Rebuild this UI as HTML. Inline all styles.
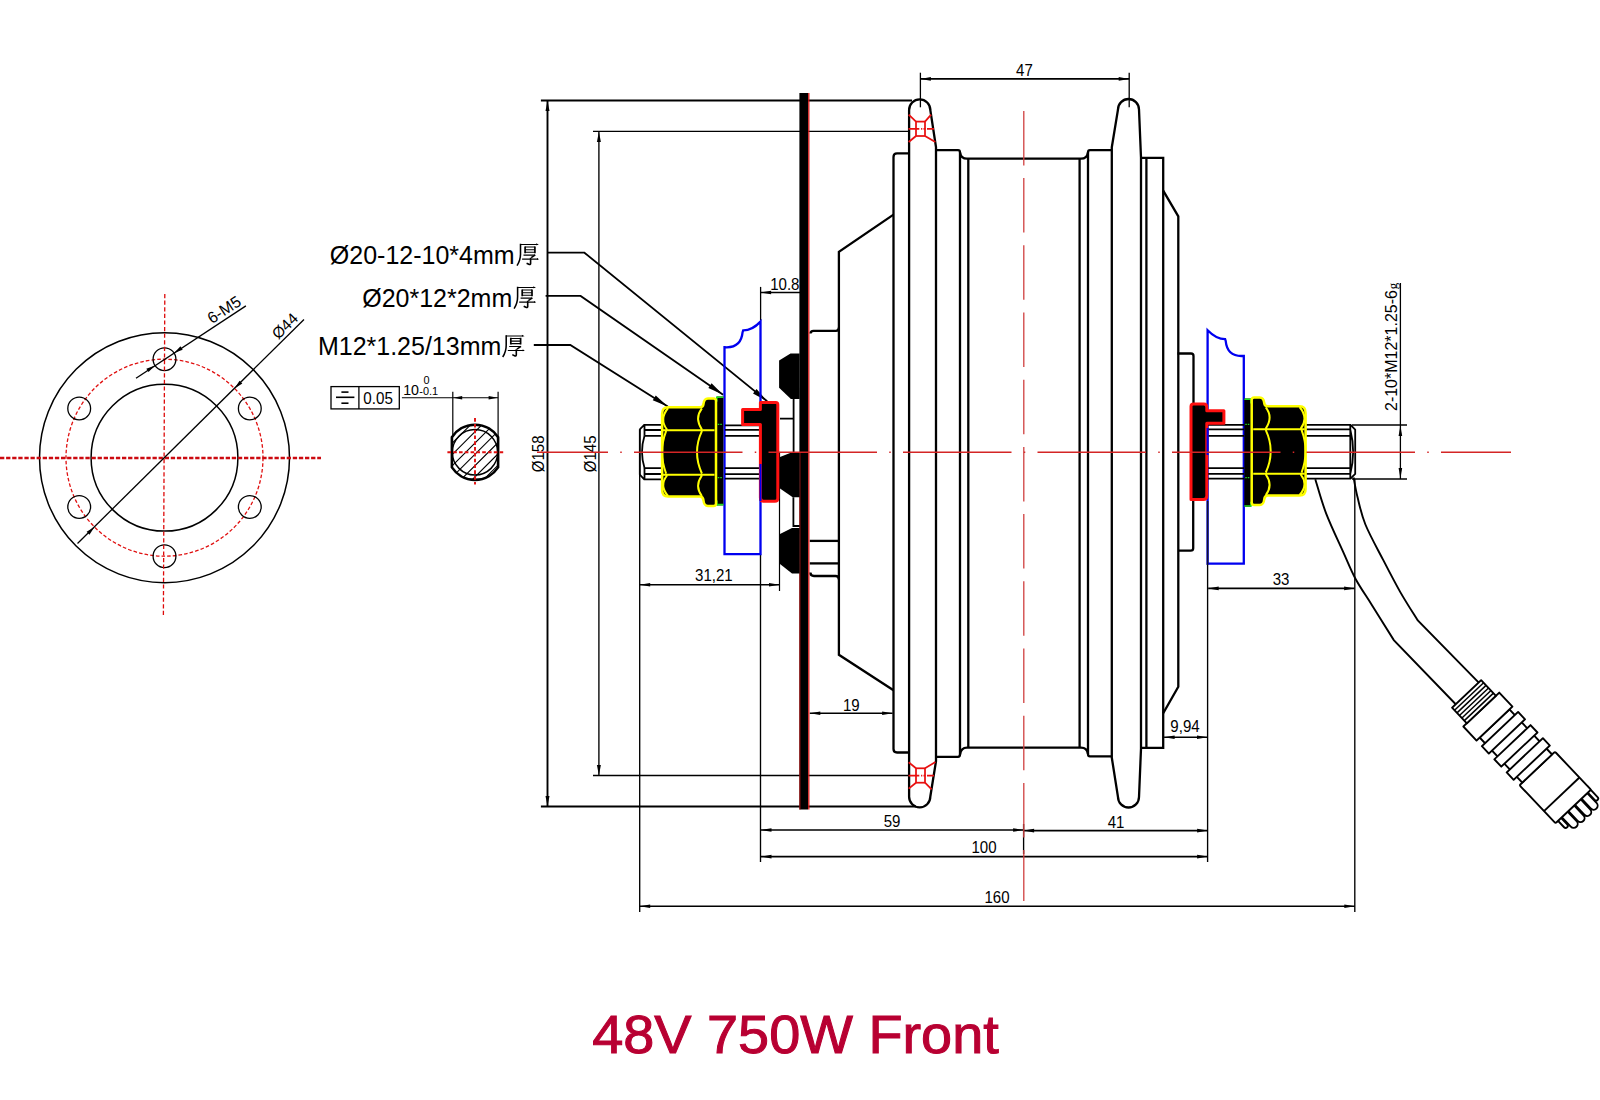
<!DOCTYPE html>
<html><head><meta charset="utf-8"><style>html,body{margin:0;padding:0;background:#fff;overflow:hidden;}svg{display:block}</style></head>
<body><svg width="1600" height="1100" viewBox="0 0 1600 1100">
<rect width="1600" height="1100" fill="#fff"/>
<circle cx="164.5" cy="457.7" r="125" fill="none" stroke="#000" stroke-width="1.5"/>
<circle cx="164.5" cy="457.7" r="73.4" fill="none" stroke="#000" stroke-width="1.5"/>
<circle cx="164.5" cy="457.7" r="98.5" fill="none" stroke="#E01010" stroke-width="1.3" stroke-dasharray="3.6 2.1"/>
<circle cx="249.8" cy="408.45" r="11.4" fill="none" stroke="#000" stroke-width="1.3"/>
<circle cx="164.5" cy="359.2" r="11.4" fill="none" stroke="#000" stroke-width="1.3"/>
<circle cx="79.2" cy="408.45" r="11.4" fill="none" stroke="#000" stroke-width="1.3"/>
<circle cx="79.2" cy="506.95" r="11.4" fill="none" stroke="#000" stroke-width="1.3"/>
<circle cx="164.5" cy="556.2" r="11.4" fill="none" stroke="#000" stroke-width="1.3"/>
<circle cx="249.8" cy="506.95" r="11.4" fill="none" stroke="#000" stroke-width="1.3"/>
<line x1="0" y1="458" x2="321" y2="458" stroke="#CC0A10" stroke-width="2.4" stroke-dasharray="4.3 1.8"/>
<line x1="164.8" y1="294" x2="163.4" y2="615.5" stroke="#DD0A0A" stroke-width="1.3" stroke-dasharray="4.2 2.4"/>
<line x1="77.5" y1="543.5" x2="304" y2="319.5" stroke="#000" stroke-width="1.3" />
<polygon points="234.54,388.44 239.53,380.69 242.34,383.53" fill="#000" stroke="none" stroke-width="0" />
<polygon points="94.46,526.96 89.47,534.71 86.66,531.87" fill="#000" stroke="none" stroke-width="0" />
<text x="0" y="0" transform="translate(288.6,329.8) rotate(-44.7)" font-family="Liberation Sans" font-size="15.5" fill="#000" font-weight="normal" text-anchor="middle" >Ø44</text>
<line x1="245.9" y1="305.9" x2="136" y2="378.3" stroke="#000" stroke-width="1.3" />
<polygon points="174.04,352.96 180.47,346.35 182.66,349.7" fill="#000" stroke="none" stroke-width="0" />
<polygon points="154.96,365.44 148.53,372.05 146.34,368.7" fill="#000" stroke="none" stroke-width="0" />
<text x="0" y="0" transform="translate(227.1,314.3) rotate(-33.4)" font-family="Liberation Sans" font-size="16" fill="#000" font-weight="normal" text-anchor="middle" >6-M5</text>
<rect x="331" y="386.6" width="68.3" height="22.3" fill="none" stroke="#000" stroke-width="1.3"/>
<line x1="358.9" y1="386.6" x2="358.9" y2="408.9" stroke="#000" stroke-width="1.3" />
<line x1="336" y1="397.3" x2="354.4" y2="397.3" stroke="#000" stroke-width="1.6" />
<line x1="341.4" y1="392.1" x2="348.5" y2="392.1" stroke="#000" stroke-width="1.6" />
<line x1="341.4" y1="403.2" x2="348.5" y2="403.2" stroke="#000" stroke-width="1.6" />
<text x="0" y="0" transform="translate(363.3,403.6) scale(0.95,1)" font-family="Liberation Sans" font-size="16" fill="#000" font-weight="normal" text-anchor="start" >0.05</text>
<line x1="401.9" y1="397.7" x2="498.1" y2="397.7" stroke="#000" stroke-width="1.1" />
<polygon points="453.2,397.7 462.2,395.9 462.2,399.5" fill="#000" stroke="none" stroke-width="0" />
<polygon points="497.6,397.7 488.6,399.5 488.6,395.9" fill="#000" stroke="none" stroke-width="0" />
<line x1="452.8" y1="391.7" x2="452.8" y2="436" stroke="#000" stroke-width="1.2" />
<line x1="498.1" y1="391.7" x2="498.1" y2="436" stroke="#000" stroke-width="1.2" />
<text x="0" y="0" transform="translate(403.2,394.6) scale(0.95,1)" font-family="Liberation Sans" font-size="15" fill="#000" font-weight="normal" text-anchor="start" >10</text>
<text x="0" y="0" transform="translate(419.3,394.6) scale(0.95,1)" font-family="Liberation Sans" font-size="11.5" fill="#000" font-weight="normal" text-anchor="start" >-0.1</text>
<text x="0" y="0" transform="translate(423.6,384.4) scale(0.95,1)" font-family="Liberation Sans" font-size="11.5" fill="#000" font-weight="normal" text-anchor="start" >0</text>
<clipPath id="shc"><path d="M451.9,437.2 A27.6,27.6 0 0 1 498.1,437.2 V467.4 A27.6,27.6 0 0 1 451.9,467.4 Z"/></clipPath>
<path d="M435,426.5 L515,346.5 M435,437.8 L515,357.8 M435,449.1 L515,369.1 M435,460.4 L515,380.4 M435,471.7 L515,391.7 M435,483 L515,403 M435,494.3 L515,414.3 M435,505.6 L515,425.6 M435,516.9 L515,436.9 M435,528.2 L515,448.2 M435,539.5 L515,459.5 M435,550.8 L515,470.8 M435,562.1 L515,482.1" stroke="#000" stroke-width="1.1" fill="none" clip-path="url(#shc)"/>
<path d="M451.9,437.2 A27.6,27.6 0 0 1 498.1,437.2 V467.4 A27.6,27.6 0 0 1 451.9,467.4 Z" stroke="#000" stroke-width="2.6" fill="none" />
<circle cx="475" cy="452.3" r="22.7" fill="none" stroke="#000" stroke-width="1.5"/>
<line x1="475" y1="418.1" x2="475" y2="484.5" stroke="#E01010" stroke-width="1.9" stroke-dasharray="3.6 2.2"/>
<line x1="447.4" y1="452.3" x2="503.6" y2="452.3" stroke="#E01010" stroke-width="1.9" stroke-dasharray="3.6 2.2"/>
<text x="0" y="0" transform="translate(329.8,263.6)" font-family="Liberation Sans" font-size="25" fill="#000" font-weight="normal" text-anchor="start" >Ø20-12-10*4mm</text>
<text x="0" y="0" transform="translate(362.2,306.6)" font-family="Liberation Sans" font-size="25" fill="#000" font-weight="normal" text-anchor="start" >Ø20*12*2mm</text>
<text x="0" y="0" transform="translate(317.9,355)" font-family="Liberation Sans" font-size="25" fill="#000" font-weight="normal" text-anchor="start" >M12*1.25/13mm</text>
<g transform="translate(512,239.6) scale(1.0)" stroke="#000" fill="none" stroke-linecap="butt"><path d="M8.2,4.9 H25.5 M13.1,7.4 H22.9 M13.1,10.1 H22.9 M13.1,12.6 H22.9 M11.5,15.5 H23 M10.1,19.5 H26" stroke-width="1.05"/><path d="M8.5,4.2 V14 Q8.6,20.5 5.0,26" stroke-width="1.55"/><path d="M13.1,6.8 V13.6 M22.9,6.8 V13.6" stroke-width="1.7"/><path d="M23.3,15.3 L19.2,18.1" stroke-width="1.5"/><path d="M18.6,18.2 V24 Q18.5,25.2 17.3,24.9 L14.6,23.6" stroke-width="1.6"/><path d="M24.2,3.7 L26.9,5.2 L24.2,5.6 Z M25,18.3 L27.1,19.7 L25,20.2 Z" fill="#000" stroke="none"/></g>
<g transform="translate(509.1,282.6) scale(1.0)" stroke="#000" fill="none" stroke-linecap="butt"><path d="M8.2,4.9 H25.5 M13.1,7.4 H22.9 M13.1,10.1 H22.9 M13.1,12.6 H22.9 M11.5,15.5 H23 M10.1,19.5 H26" stroke-width="1.05"/><path d="M8.5,4.2 V14 Q8.6,20.5 5.0,26" stroke-width="1.55"/><path d="M13.1,6.8 V13.6 M22.9,6.8 V13.6" stroke-width="1.7"/><path d="M23.3,15.3 L19.2,18.1" stroke-width="1.5"/><path d="M18.6,18.2 V24 Q18.5,25.2 17.3,24.9 L14.6,23.6" stroke-width="1.6"/><path d="M24.2,3.7 L26.9,5.2 L24.2,5.6 Z M25,18.3 L27.1,19.7 L25,20.2 Z" fill="#000" stroke="none"/></g>
<g transform="translate(497.7,331) scale(1.0)" stroke="#000" fill="none" stroke-linecap="butt"><path d="M8.2,4.9 H25.5 M13.1,7.4 H22.9 M13.1,10.1 H22.9 M13.1,12.6 H22.9 M11.5,15.5 H23 M10.1,19.5 H26" stroke-width="1.05"/><path d="M8.5,4.2 V14 Q8.6,20.5 5.0,26" stroke-width="1.55"/><path d="M13.1,6.8 V13.6 M22.9,6.8 V13.6" stroke-width="1.7"/><path d="M23.3,15.3 L19.2,18.1" stroke-width="1.5"/><path d="M18.6,18.2 V24 Q18.5,25.2 17.3,24.9 L14.6,23.6" stroke-width="1.6"/><path d="M24.2,3.7 L26.9,5.2 L24.2,5.6 Z M25,18.3 L27.1,19.7 L25,20.2 Z" fill="#000" stroke="none"/></g>
<path d="M547.5,252.7 H584.4 L767.2,401.3" stroke="#000" stroke-width="1.8" fill="none" />
<polygon points="767.2,401.3 753.02,393.38 756.55,389.03" fill="#000" stroke="none" stroke-width="0" />
<path d="M545.6,295.9 H580.6 L723.1,394.7" stroke="#000" stroke-width="1.8" fill="none" />
<polygon points="723.1,394.7 708.36,387.88 711.55,383.28" fill="#000" stroke="none" stroke-width="0" />
<path d="M533.8,345 H570.3 L667.8,406.5" stroke="#000" stroke-width="1.8" fill="none" />
<polygon points="667.8,406.5 652.77,400.33 655.76,395.6" fill="#000" stroke="none" stroke-width="0" />
<line x1="540.9" y1="100.4" x2="912" y2="100.4" stroke="#000" stroke-width="2.0" />
<line x1="540.9" y1="806.6" x2="916" y2="806.6" stroke="#000" stroke-width="2.0" />
<line x1="547.5" y1="100.4" x2="547.5" y2="806.6" stroke="#000" stroke-width="1.9" />
<polygon points="547.5,101 549.5,111 545.5,111" fill="#000" stroke="none" stroke-width="0" />
<polygon points="547.5,806 545.5,796 549.5,796" fill="#000" stroke="none" stroke-width="0" />
<text x="0" y="0" transform="translate(544.4,453.9) rotate(-90) scale(0.96,1)" font-family="Liberation Sans" font-size="15.7" fill="#000" font-weight="normal" text-anchor="middle" >Ø158</text>
<line x1="593" y1="131.4" x2="908.5" y2="131.4" stroke="#000" stroke-width="1.35" />
<line x1="593" y1="775.5" x2="908.5" y2="775.5" stroke="#000" stroke-width="1.35" />
<line x1="598.9" y1="131.4" x2="598.9" y2="775.5" stroke="#000" stroke-width="1.35" />
<polygon points="598.9,131.9 600.9,141.9 596.9,141.9" fill="#000" stroke="none" stroke-width="0" />
<polygon points="598.9,775 596.9,765 600.9,765" fill="#000" stroke="none" stroke-width="0" />
<text x="0" y="0" transform="translate(595.9,453.9) rotate(-90) scale(0.96,1)" font-family="Liberation Sans" font-size="15.7" fill="#000" font-weight="normal" text-anchor="middle" >Ø145</text>
<line x1="920.4" y1="72.7" x2="920.4" y2="107.3" stroke="#000" stroke-width="1.3" />
<line x1="1129.2" y1="72.7" x2="1129.2" y2="107.3" stroke="#000" stroke-width="1.3" />
<line x1="920.4" y1="78.9" x2="1129.2" y2="78.9" stroke="#000" stroke-width="1.6" />
<polygon points="920.4,78.9 930.9,77.1 930.9,80.7" fill="#000" stroke="none" stroke-width="0" />
<polygon points="1129.2,78.9 1118.7,80.7 1118.7,77.1" fill="#000" stroke="none" stroke-width="0" />
<text x="0" y="0" transform="translate(1024.4,75.8) scale(0.96,1)" font-family="Liberation Sans" font-size="15.7" fill="#000" font-weight="normal" text-anchor="middle" >47</text>
<line x1="760.6" y1="286.9" x2="760.6" y2="320.6" stroke="#000" stroke-width="1.3" />
<line x1="760.6" y1="292.5" x2="800" y2="292.5" stroke="#000" stroke-width="1.35" />
<polygon points="760.6,292.5 771.1,290.7 771.1,294.3" fill="#000" stroke="none" stroke-width="0" />
<text x="0" y="0" transform="translate(784.8,290) scale(0.96,1)" font-family="Liberation Sans" font-size="15.7" fill="#000" font-weight="normal" text-anchor="middle" >10.8</text>
<line x1="639.7" y1="429.3" x2="639.7" y2="912" stroke="#000" stroke-width="1.35" />
<line x1="779.5" y1="452" x2="779.5" y2="591" stroke="#000" stroke-width="1.2" />
<line x1="639.7" y1="584.8" x2="779.5" y2="584.8" stroke="#000" stroke-width="1.6" />
<polygon points="639.7,584.8 650.2,583 650.2,586.6" fill="#000" stroke="none" stroke-width="0" />
<polygon points="779.5,584.8 769,586.6 769,583" fill="#000" stroke="none" stroke-width="0" />
<text x="0" y="0" transform="translate(713.9,580.5) scale(0.96,1)" font-family="Liberation Sans" font-size="15.7" fill="#000" font-weight="normal" text-anchor="middle" >31,21</text>
<line x1="809.8" y1="713.3" x2="892.6" y2="713.3" stroke="#000" stroke-width="1.6" />
<polygon points="809.8,713.3 820.3,711.5 820.3,715.1" fill="#000" stroke="none" stroke-width="0" />
<polygon points="892.6,713.3 882.1,715.1 882.1,711.5" fill="#000" stroke="none" stroke-width="0" />
<text x="0" y="0" transform="translate(851.3,710.9) scale(0.96,1)" font-family="Liberation Sans" font-size="15.7" fill="#000" font-weight="normal" text-anchor="middle" >19</text>
<line x1="1164.1" y1="737.3" x2="1207.5" y2="737.3" stroke="#000" stroke-width="1.6" />
<polygon points="1164.1,737.3 1174.6,735.5 1174.6,739.1" fill="#000" stroke="none" stroke-width="0" />
<polygon points="1207.5,737.3 1197,739.1 1197,735.5" fill="#000" stroke="none" stroke-width="0" />
<text x="0" y="0" transform="translate(1185,732.2) scale(0.96,1)" font-family="Liberation Sans" font-size="15.7" fill="#000" font-weight="normal" text-anchor="middle" >9,94</text>
<line x1="1208.2" y1="588.4" x2="1354.6" y2="588.4" stroke="#000" stroke-width="1.6" />
<polygon points="1208.2,588.4 1218.7,586.6 1218.7,590.2" fill="#000" stroke="none" stroke-width="0" />
<polygon points="1354.6,588.4 1344.1,590.2 1344.1,586.6" fill="#000" stroke="none" stroke-width="0" />
<text x="0" y="0" transform="translate(1281,585) scale(0.96,1)" font-family="Liberation Sans" font-size="15.7" fill="#000" font-weight="normal" text-anchor="middle" >33</text>
<line x1="760.5" y1="554" x2="760.5" y2="862" stroke="#000" stroke-width="1.35" />
<line x1="1207.6" y1="563.6" x2="1207.6" y2="862" stroke="#000" stroke-width="1.35" />
<line x1="1023.6" y1="824" x2="1023.6" y2="854" stroke="#000" stroke-width="1.35" />
<line x1="1354.8" y1="479" x2="1354.8" y2="912" stroke="#000" stroke-width="1.35" />
<line x1="761" y1="830" x2="1023.6" y2="830" stroke="#000" stroke-width="1.6" />
<polygon points="761,830 771.5,828.2 771.5,831.8" fill="#000" stroke="none" stroke-width="0" />
<polygon points="1023.6,830 1013.1,831.8 1013.1,828.2" fill="#000" stroke="none" stroke-width="0" />
<text x="0" y="0" transform="translate(892,826.8) scale(0.96,1)" font-family="Liberation Sans" font-size="15.7" fill="#000" font-weight="normal" text-anchor="middle" >59</text>
<line x1="1023.6" y1="830.6" x2="1207.6" y2="830.6" stroke="#000" stroke-width="1.6" />
<polygon points="1023.6,830.6 1034.1,828.8 1034.1,832.4" fill="#000" stroke="none" stroke-width="0" />
<polygon points="1207.6,830.6 1197.1,832.4 1197.1,828.8" fill="#000" stroke="none" stroke-width="0" />
<text x="0" y="0" transform="translate(1116,827.8) scale(0.96,1)" font-family="Liberation Sans" font-size="15.7" fill="#000" font-weight="normal" text-anchor="middle" >41</text>
<line x1="761" y1="856.6" x2="1207.6" y2="856.6" stroke="#000" stroke-width="1.6" />
<polygon points="761,856.6 771.5,854.8 771.5,858.4" fill="#000" stroke="none" stroke-width="0" />
<polygon points="1207.6,856.6 1197.1,858.4 1197.1,854.8" fill="#000" stroke="none" stroke-width="0" />
<text x="0" y="0" transform="translate(984,853.2) scale(0.96,1)" font-family="Liberation Sans" font-size="15.7" fill="#000" font-weight="normal" text-anchor="middle" >100</text>
<line x1="639.7" y1="906.3" x2="1354.8" y2="906.3" stroke="#000" stroke-width="1.6" />
<polygon points="639.7,906.3 650.2,904.5 650.2,908.1" fill="#000" stroke="none" stroke-width="0" />
<polygon points="1354.8,906.3 1344.3,908.1 1344.3,904.5" fill="#000" stroke="none" stroke-width="0" />
<text x="0" y="0" transform="translate(997,903.2) scale(0.96,1)" font-family="Liberation Sans" font-size="15.7" fill="#000" font-weight="normal" text-anchor="middle" >160</text>
<line x1="1352" y1="425" x2="1407" y2="425" stroke="#000" stroke-width="1.4" />
<line x1="1352" y1="479" x2="1407" y2="479" stroke="#000" stroke-width="1.4" />
<line x1="1400.4" y1="283" x2="1400.4" y2="479" stroke="#000" stroke-width="1.3" />
<polygon points="1400.4,425.5 1402.2,436 1398.6,436" fill="#000" stroke="none" stroke-width="0" />
<polygon points="1400.4,478.5 1398.6,468 1402.2,468" fill="#000" stroke="none" stroke-width="0" />
<text transform="translate(1397.2,411) rotate(-90)" font-family="Liberation Sans" font-size="16" fill="#000">2-10*M12*1.25-6<tspan dx="0.8" font-family="Liberation Serif" font-size="13">g</tspan></text>
<path d="M909.1,110 A10.6,10.6 0 0 1 930.3,110 L936,147.2 V761.2 L930.3,796.7 A10.6,10.6 0 0 1 909.1,796.7 Z" stroke="#000" stroke-width="2.3" fill="none" />
<path d="M1111.8,147.2 L1118,109.5 A10.5,10.5 0 0 1 1139,109.5 L1141,157.8 V748.8 L1139,797 A10.5,10.5 0 0 1 1118,797 L1111.8,757.7 Z" stroke="#000" stroke-width="2.3" fill="none" />
<path d="M936,150.2 H958 Q960,150.2 960,152.5 Q961,158.7 967,158.7 H1081 Q1087,158.7 1088,152.5 Q1088,150.2 1090,150.2 H1111.8" stroke="#000" stroke-width="2.3" fill="none" />
<path d="M936,756.8 H958 Q960,756.8 960,754.5 Q961,747.6 967,747.6 H1081 Q1087,747.6 1088,754 Q1088,756.4 1090,756.4 H1111.8" stroke="#000" stroke-width="2.3" fill="none" />
<line x1="960" y1="152.5" x2="960" y2="754.5" stroke="#000" stroke-width="2.3" />
<line x1="968.3" y1="158.7" x2="968.3" y2="747.6" stroke="#000" stroke-width="2.3" />
<line x1="1079.6" y1="158.7" x2="1079.6" y2="747.6" stroke="#000" stroke-width="2.3" />
<line x1="1088" y1="152.5" x2="1088" y2="754" stroke="#000" stroke-width="2.3" />
<path d="M909.1,153.4 H897 Q893.5,153.4 893.5,157 V749 Q893.5,752.5 897,752.5 H909.1" stroke="#000" stroke-width="2.3" fill="none" />
<path d="M893.5,214.6 L838.9,251.9 V654.8 L893.5,690.3" stroke="#000" stroke-width="2.3" fill="none" />
<path d="M810.5,333.5 Q810.5,330.8 813.5,330.8 H836 Q838.9,330.8 838.9,327.5" stroke="#000" stroke-width="2.3" fill="none" />
<path d="M810.4,572.5 Q810.4,576 814,576 H835.5 Q838.9,576 838.9,579.5" stroke="#000" stroke-width="2.3" fill="none" />
<line x1="809.8" y1="540.9" x2="838.4" y2="540.9" stroke="#000" stroke-width="2.3" />
<line x1="809.8" y1="563.4" x2="838.4" y2="563.4" stroke="#000" stroke-width="2.3" />
<path d="M1141,157.8 H1163.2 V747.9 H1141" stroke="#000" stroke-width="2.3" fill="none" />
<line x1="1146.4" y1="157.8" x2="1146.4" y2="747.9" stroke="#000" stroke-width="2.3" />
<path d="M1163.2,190.6 L1178.3,216.3 V686.7 L1163.2,713.3" stroke="#000" stroke-width="2.3" fill="none" />
<path d="M1177.5,353.5 H1191 Q1193.5,353.5 1193.5,356 V404" stroke="#000" stroke-width="2.3" fill="none" />
<path d="M1193.2,500 V548.2 Q1193.2,550.6 1190.7,550.6 H1178.5" stroke="#000" stroke-width="2.3" fill="none" />
<g transform="translate(920.5,128.8)" stroke="#E81010" stroke-width="1.75" fill="none"><rect x="-4.5" y="-7.2" width="9" height="14.4"/><path d="M-4.5,-7.2 L-11.8,-14.1 M4.5,-7.2 L10.6,-14.1 M-4.5,7.2 L-11.8,13.2 M4.5,7.2 L14.8,13.2"/><path d="M-12,0 H-1.2 M0.6,0 H1.8 M3,0 H5 M6.5,0 H13.5"/></g>
<g transform="translate(920.5,775.5)" stroke="#E81010" stroke-width="1.75" fill="none"><rect x="-4.5" y="-7.2" width="9" height="14.4"/><path d="M-4.5,-7.2 L-11.8,-13.2 M4.5,-7.2 L14.9,-13.4 M-4.5,7.2 L-11.8,13.1 M4.5,7.2 L11.1,13.9"/><path d="M-12,0 H-1.2 M0.6,0 H1.8 M3,0 H5 M6.5,0 H13.5"/></g>
<rect x="799.4" y="93" width="8.6" height="716.5" fill="#000"/>
<line x1="808.8" y1="93" x2="808.8" y2="809.5" stroke="#D01010" stroke-width="1.3" />
<line x1="799.9" y1="452" x2="799.9" y2="809.5" stroke="#B01010" stroke-width="1.0" />
<polygon points="779.1,360.5 790.5,353.5 799.6,353.5 799.6,399.1 790.9,399.1 779.1,387.7" fill="#000" stroke="none" stroke-width="0" />
<polygon points="780,457 792,452.3 799.6,452.3 799.6,497.3 792.7,497.3 780,488.4" fill="#000" stroke="none" stroke-width="0" />
<polygon points="780,534.1 792,528 799.6,528 799.6,573.6 792,573.6 780,564.1" fill="#000" stroke="none" stroke-width="0" />
<path d="M780,418.6 H793.6 M793.6,399 V452.3" stroke="#000" stroke-width="1.8" fill="none" />
<path d="M793.4,497.3 V526 H799.6" stroke="#000" stroke-width="1.8" fill="none" />
<path d="M724.5,554.2 V347.2 Q741,348.5 742.6,332.2 L743.2,330.4 Q752,330.5 760.5,321.6 V554.2 Z" stroke="#0000F0" stroke-width="2.3" fill="none" />
<path d="M1207.6,563.6 V330.2 Q1216.3,339.1 1225.1,339.2 L1225.7,341 Q1227.3,357.2 1243.8,355.9 V563.6 Z" stroke="#0000F0" stroke-width="2.3" fill="none" />
<path d="M639.8,429.3 L644.2,424.9 H661 M644.5,430 H661 M644.5,435.8 H661 M644.5,424.9 V435.8" stroke="#000" stroke-width="1.8" fill="none" />
<path d="M639.8,474.7 L644.2,479.4 H661 M644.5,474 H661 M644.5,468.1 H661 M644.5,468.1 V479.4" stroke="#000" stroke-width="1.8" fill="none" />
<path d="M639.8,429.3 V474.7 M644.5,435.8 Q639.5,452 644.5,468.1" stroke="#000" stroke-width="1.8" fill="none" />
<line x1="725" y1="425.3" x2="759" y2="425.3" stroke="#000" stroke-width="1.8" />
<line x1="725" y1="429.8" x2="759" y2="429.8" stroke="#000" stroke-width="1.8" />
<line x1="725" y1="435.8" x2="759" y2="435.8" stroke="#000" stroke-width="1.8" />
<line x1="725" y1="468.2" x2="759" y2="468.2" stroke="#000" stroke-width="1.8" />
<line x1="725" y1="474.2" x2="759" y2="474.2" stroke="#000" stroke-width="1.8" />
<line x1="725" y1="478.7" x2="759" y2="478.7" stroke="#000" stroke-width="1.8" />
<line x1="1207" y1="424.8" x2="1244" y2="424.8" stroke="#000" stroke-width="1.8" />
<line x1="1207" y1="429.3" x2="1244" y2="429.3" stroke="#000" stroke-width="1.8" />
<line x1="1207" y1="435.8" x2="1244" y2="435.8" stroke="#000" stroke-width="1.8" />
<line x1="1207" y1="468.1" x2="1244" y2="468.1" stroke="#000" stroke-width="1.8" />
<line x1="1207" y1="473.8" x2="1244" y2="473.8" stroke="#000" stroke-width="1.8" />
<line x1="1207" y1="478.7" x2="1244" y2="478.7" stroke="#000" stroke-width="1.8" />
<line x1="1305" y1="424.8" x2="1351" y2="424.8" stroke="#000" stroke-width="1.8" />
<line x1="1305" y1="429.3" x2="1351" y2="429.3" stroke="#000" stroke-width="1.8" />
<line x1="1305" y1="435.8" x2="1351" y2="435.8" stroke="#000" stroke-width="1.8" />
<line x1="1305" y1="468.1" x2="1351" y2="468.1" stroke="#000" stroke-width="1.8" />
<line x1="1305" y1="473.8" x2="1351" y2="473.8" stroke="#000" stroke-width="1.8" />
<line x1="1305" y1="478.7" x2="1351" y2="478.7" stroke="#000" stroke-width="1.8" />
<path d="M1350.5,424.8 L1355.2,429.5 V474 L1350.5,478.7" stroke="#000" stroke-width="1.8" fill="none" />
<path d="M1350.3,429.5 Q1356,452 1350.3,474 M1350.3,424.8 V478.7" stroke="#000" stroke-width="1.8" fill="none" />
<path d="M742.6,409.6 H760.4 V402.4 H775.8 Q777.8,402.4 777.8,404.4 V498.2 Q777.8,501.2 774.8,501.2 H763.9 Q760.4,501.2 760.4,497.7 V424.6 H742.6 Z" stroke="#FF1010" stroke-width="3" fill="#000" stroke-linejoin="round"/>
<line x1="760.5" y1="464" x2="760.5" y2="501" stroke="#0000F0" stroke-width="2" />
<path d="M1191,406.6 Q1191,404.1 1193.5,404.1 H1203.8 Q1206.8,404.1 1206.8,407.1 V410.7 H1223.9 V423.3 H1206.8 V496.1 Q1206.8,499.6 1203.3,499.6 H1191 Z" stroke="#FF1010" stroke-width="3" fill="#000" stroke-linejoin="round"/>
<line x1="1207.6" y1="428" x2="1207.6" y2="455" stroke="#0000F0" stroke-width="2" />
<line x1="1207.6" y1="501" x2="1207.6" y2="565" stroke="#101030" stroke-width="1.6" />
<rect x="716.8" y="396.5" width="6.6" height="108.9" fill="#000"/>
<path d="M716.8,397.3 H723.4 M716.8,504.6 H723.4" stroke="#22DD22" stroke-width="1.6" fill="none"/>
<path d="M716.8,396.5 V401.5 M716.8,505.4 V500.4" stroke="#22DD22" stroke-width="1.6" fill="none"/>
<path d="M717.8,424.3 H722.4 M717.8,477.6 H722.4" stroke="#22DD22" stroke-width="1.2" stroke-dasharray="1.5 1" fill="none"/>
<rect x="1244.3" y="398.5" width="6.7" height="108.3" fill="#000"/>
<path d="M1244.3,399.3 H1251 M1244.3,506 H1251" stroke="#22DD22" stroke-width="1.6" fill="none"/>
<path d="M1251,398.5 V403.5 M1251,506.8 V501.8" stroke="#22DD22" stroke-width="1.6" fill="none"/>
<path d="M1245.3,424.3 H1250 M1245.3,477.6 H1250" stroke="#22DD22" stroke-width="1.2" stroke-dasharray="1.5 1" fill="none"/>
<g ><path d="M668.1,407.3 H700 Q703,407.3 703.5,404 Q704,398.5 708,398.5 H713.5 Q716,398.5 716,401 V503.5 Q716,506 713.5,506 H708 Q704,506 703.5,500.5 Q703,496.6 700,496.6 H668.1 Q662.1,496.6 662.1,490 V414 Q662.1,407.3 668.1,407.3 Z" fill="#000" stroke="#FFFF00" stroke-width="2.5"/><path d="M663,430.2 H714.5 M663,474.8 H714.5 M668.1,408 Q658.9,419.2 667,429.5 M701.9,408.4 Q694.3,418.2 701.9,429.5 M666.1,431.2 Q658.1,452.2 666.1,473.5 M701.9,431.2 Q692.1,452.2 701.9,473.5 M667,475.5 Q658.9,485.8 668.1,496 M701.9,475.5 Q694.3,486 701.9,496" fill="none" stroke="#FFFF00" stroke-width="2"/></g>
<g transform="translate(1967.7,-1) scale(-1,1)"><path d="M668.1,407.3 H700 Q703,407.3 703.5,404 Q704,398.5 708,398.5 H713.5 Q716,398.5 716,401 V503.5 Q716,506 713.5,506 H708 Q704,506 703.5,500.5 Q703,496.6 700,496.6 H668.1 Q662.1,496.6 662.1,490 V414 Q662.1,407.3 668.1,407.3 Z" fill="#000" stroke="#FFFF00" stroke-width="2.5"/><path d="M663,430.2 H714.5 M663,474.8 H714.5 M668.1,408 Q658.9,419.2 667,429.5 M701.9,408.4 Q694.3,418.2 701.9,429.5 M666.1,431.2 Q658.1,452.2 666.1,473.5 M701.9,431.2 Q692.1,452.2 701.9,473.5 M667,475.5 Q658.9,485.8 668.1,496 M701.9,475.5 Q694.3,486 701.9,496" fill="none" stroke="#FFFF00" stroke-width="2"/></g>
<path d="M1315.3,479.2 C1317.12,484.93 1321.48,501.32 1326.2,513.6 C1330.92,525.88 1338.7,542 1343.6,552.9 C1348.5,563.8 1350.87,570.28 1355.6,579 C1360.33,587.72 1365.63,595.02 1372,605.2 C1378.37,615.38 1390.17,634.28 1393.8,640.1 L1455.5,704" stroke="#000" stroke-width="1.9" fill="none" />
<path d="M1353.6,477.5 C1354.25,480.75 1355.53,489.17 1357.5,497 C1359.47,504.83 1361.17,514.1 1365.4,524.5 C1369.63,534.9 1377.08,548.13 1382.9,559.4 C1388.72,570.67 1394.48,581.92 1400.3,592.1 C1406.12,602.28 1414.88,615.77 1417.8,620.5 L1479.5,683.3" stroke="#000" stroke-width="1.9" fill="none" />
<g transform="translate(1466.6,693.9) rotate(46.6)" fill="#fff" stroke="#000" stroke-width="1.9" stroke-linejoin="round"><path d="M150,-24.3 H164.95 A2.05,2.05 0 0 1 164.95,-20.2 H150 Z"/><path d="M150,-19.5 H168.5 A4,4 0 0 1 168.5,-11.5 H150 Z"/><path d="M150,-10.5 H168.7 A4,4 0 0 1 168.7,-2.5 H150 Z"/><path d="M150,-1.5 H168.5 A4,4 0 0 1 168.5,6.5 H150 Z"/><path d="M150,7.5 H168 A4,4 0 0 1 168,15.5 H150 Z"/><path d="M150,16.5 H163.85 A2.15,2.15 0 0 1 163.85,20.8 H150 Z"/><rect x="102.7" y="-24.5" width="52.4" height="48.8" rx="1.5"/><line x1="138.3" y1="-24.5" x2="138.3" y2="24.3"/><rect x="40.7" y="-20.5" width="62" height="41"/><rect x="48.5" y="-25" width="10.1" height="49.8"/><rect x="66.6" y="-25" width="10.1" height="49.8"/><rect x="84.6" y="-25" width="10.1" height="49.8"/><rect x="21.5" y="-24.6" width="19.2" height="49.4"/><rect x="0" y="-20" width="21.5" height="40"/><line x1="3.58" y1="-20" x2="3.58" y2="20" stroke-width="1.5"/><line x1="7.16" y1="-20" x2="7.16" y2="20" stroke-width="1.5"/><line x1="10.74" y1="-20" x2="10.74" y2="20" stroke-width="1.5"/><line x1="14.32" y1="-20" x2="14.32" y2="20" stroke-width="1.5"/><line x1="17.9" y1="-20" x2="17.9" y2="20" stroke-width="1.5"/></g>
<line x1="537" y1="452.3" x2="1511" y2="452.3" stroke="#D42525" stroke-width="1.6" stroke-dasharray="108.5 12.25 1.5 12.25" stroke-dashoffset="37.5"/>
<line x1="1023.8" y1="110.9" x2="1023.8" y2="901" stroke="#D04040" stroke-width="1.3" stroke-dasharray="54.5 12.7"/>
<text x="0" y="0" transform="translate(592.2,1052.6) scale(1.04,1)" font-family="Liberation Sans" font-size="53.7" fill="#B80032" stroke="#B80032" stroke-width="1.0">48V 750W Front</text>
</svg></body></html>
